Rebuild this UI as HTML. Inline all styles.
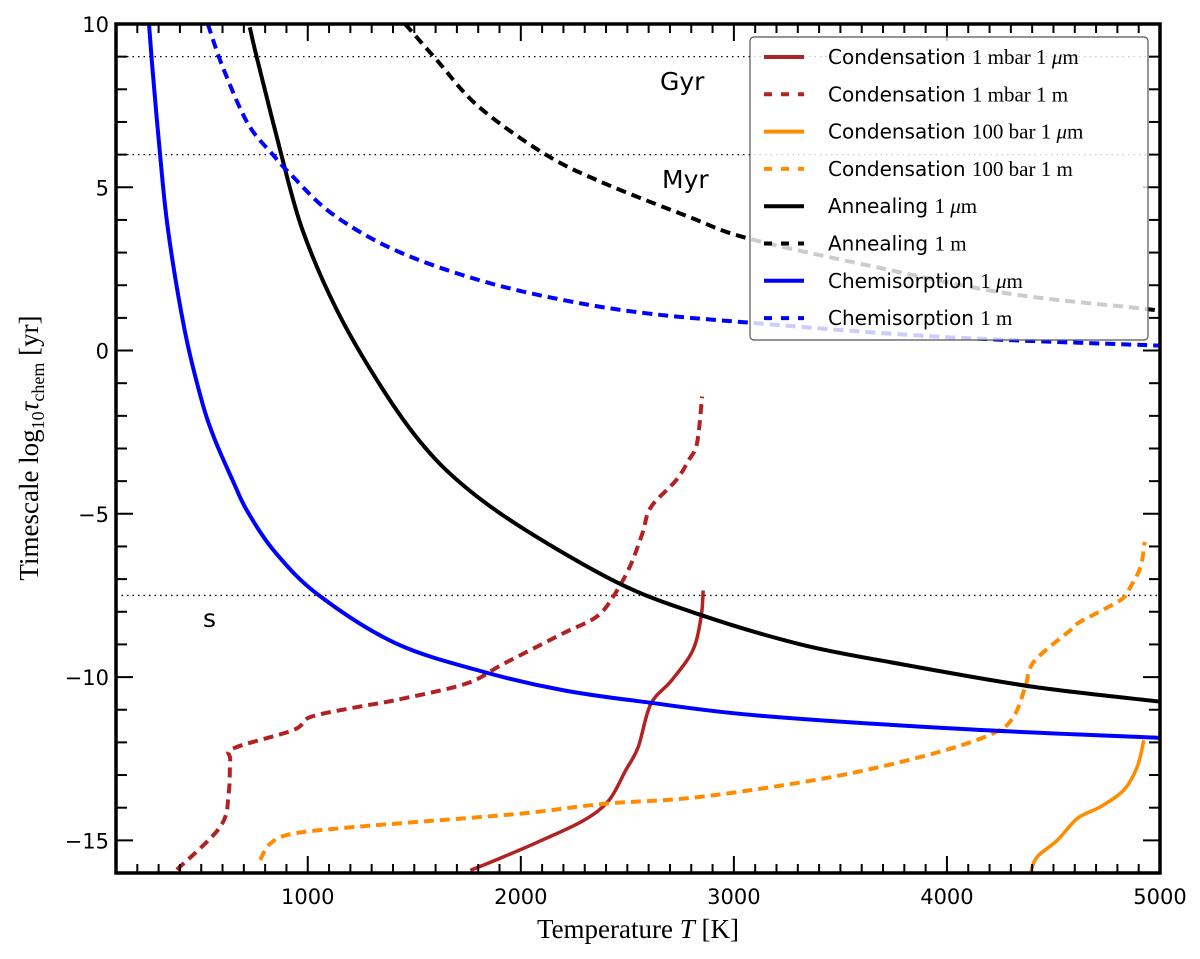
<!DOCTYPE html>
<html><head><meta charset="utf-8"><style>
body{margin:0;background:#fff;}
svg{display:block;}
.tk{font-family:"DejaVu Sans","Liberation Sans",sans-serif;font-size:21px;fill:#000;}
.lg{font-family:"DejaVu Sans","Liberation Sans",sans-serif;font-size:20px;fill:#000;}
.mt{font-family:"Liberation Serif",serif;font-size:21px;}
.ax{font-family:"Liberation Serif",serif;font-size:27px;fill:#000;}
</style></head><body>
<svg id="chart" width="1200" height="959" xmlns="http://www.w3.org/2000/svg">
<defs><clipPath id="clip"><rect x="116" y="24" width="1044" height="849"/></clipPath></defs>
<g id="series" clip-path="url(#clip)"></g>
<g id="axes"></g>
<g id="legend"></g>
</svg>
<script>
const xTicks=[1000,2000,3000,4000,5000];
const yTicks=[-15,-10,-5,0,5,10];
const hLines=[9,6,-7.5];
const chemT=[255,269,304,344,423,501,561,649,719,850,1053,1408,1802,2196,2590,3118,4096,5000];
const chemY=[10,8.8,6.2,3.7,0.6,-1.5,-2.68,-4.0,-4.95,-6.2,-7.5,-8.95,-9.8,-10.4,-10.77,-11.18,-11.6,-11.86];
const annT=[728,762,876,975,1132,1329,1526,1723,1999,2452,2827,3313,3782,4408,5000];
const annY=[9.9,8.95,6,3.7,1.3,-0.95,-2.78,-4.09,-5.4,-7.1,-8.06,-9.0,-9.6,-10.3,-10.75];
const chemMT=[531,600,718,836,915,1112,1408,1802,2196,2590,3063,3970,5000];
const chemMY=[10,8.7,6.96,6,5.43,4.2,3.08,2.16,1.55,1.14,0.86,0.42,0.15];
const annMT=[1457,1605,1802,2117,2393,2787,3063,3656,4283,4911,5000];
const annMY=[10,8.9,7.47,6,5.12,4.1,3.44,2.57,1.75,1.29,1.22];
const c1mT=[386,590,629,636,652,933,1014,1238,1408,1743,1920,2196,2354,2432,2511,2570,2610,2728,2787,2827,2851];
const c1mY=[-15.9,-14.58,-13.55,-12.54,-12.18,-11.62,-11.22,-10.91,-10.71,-10.2,-9.59,-8.67,-8.16,-7.55,-6.63,-5.61,-4.8,-3.98,-3.37,-2.84,-1.41];
const c1uT=[1763,1920,2098,2295,2413,2492,2551,2610,2708,2807,2846,2856];
const c1uY=[-15.92,-15.5,-15,-14.39,-13.78,-12.86,-12.14,-10.82,-10.1,-9.18,-8.16,-7.35];
const c100mT=[777,824,933,1238,1408,1999,2393,2843,3467,3937,4219,4313,4368,4408,4580,4627,4815,4862,4909,4928];
const c100mY=[-15.6,-15.1,-14.79,-14.58,-14.49,-14.18,-13.88,-13.67,-13.05,-12.34,-11.72,-11.21,-10.3,-9.53,-8.56,-8.3,-7.64,-7.23,-6.62,-5.86];
const c100uT=[4393,4424,4518,4612,4721,4830,4893,4924];
const c100uY=[-15.96,-15.5,-15,-14.33,-13.97,-13.46,-12.75,-11.93];

const X0=116,X1=1160,Y0=24,Y1=873,TMIN=100,TMAX=5000,VMIN=-16,VMAX=10;
const px=t=>X0+(t-TMIN)/(TMAX-TMIN)*(X1-X0);
const py=v=>Y1-(v-VMIN)/(VMAX-VMIN)*(Y1-Y0);
const NS="http://www.w3.org/2000/svg";
function mk(tag,attrs,parent){const e=document.createElementNS(NS,tag);for(const k in attrs)e.setAttribute(k,attrs[k]);parent.appendChild(e);return e;}
const S=document.getElementById('series'),A=document.getElementById('axes'),L=document.getElementById('legend');

function smoothPath(P){
 let d='M'+P[0][0].toFixed(1)+','+P[0][1].toFixed(1);
 for(let i=0;i<P.length-1;i++){
  const p0=P[i-1]||P[i],p1=P[i],p2=P[i+1],p3=P[i+2]||P[i+1];
  const c1=[p1[0]+(p2[0]-p0[0])/6,p1[1]+(p2[1]-p0[1])/6];
  const c2=[p2[0]-(p3[0]-p1[0])/6,p2[1]-(p3[1]-p1[1])/6];
  d+=' C'+c1[0].toFixed(1)+','+c1[1].toFixed(1)+' '+c2[0].toFixed(1)+','+c2[1].toFixed(1)+' '+p2[0].toFixed(1)+','+p2[1].toFixed(1);
 }
 return d;
}

hLines.forEach(v=>{const l=mk('line',{x1:X0,x2:X1,y1:py(v),y2:py(v),stroke:'#000','stroke-width':1.3,'stroke-dasharray':'1.5,4'},S);

});

const series=[
 {n:'condensation-1mbar-1m',T:c1mT,Y:c1mY,c:'#b22222',w:4,d:'10,6'},
 {n:'condensation-1mbar-1um',T:c1uT,Y:c1uY,c:'#b22222',w:3.5,d:''},
 {n:'condensation-100bar-1m',T:c100mT,Y:c100mY,c:'#ff8c00',w:4,d:'10,6'},
 {n:'condensation-100bar-1um',T:c100uT,Y:c100uY,c:'#ff8c00',w:3.5,d:''},
 {n:'annealing-1um',T:annT,Y:annY,c:'#000',w:4,d:''},
 {n:'annealing-1m',T:annMT,Y:annMY,c:'#000',w:4,d:'10,6'},
 {n:'chemisorption-1um',T:chemT,Y:chemY,c:'#0000ff',w:4,d:''},
 {n:'chemisorption-1m',T:chemMT,Y:chemMY,c:'#0000ff',w:4,d:'10,6'}
];
series.forEach(s=>{
 const P=s.T.map((t,i)=>[px(t),py(s.Y[i])]);
 const p=mk('path',{d:smoothPath(P),fill:'none',stroke:s.c,'stroke-width':s.w,'stroke-linejoin':'round'},S);
 if(s.d)p.setAttribute('stroke-dasharray',s.d);
 
 
});

for(let t=200;t<5000;t+=100){const major=t%1000===0;const len=major?17:9;
 mk('line',{x1:px(t),x2:px(t),y1:Y1,y2:Y1-len,stroke:'#000','stroke-width':2},A);
 mk('line',{x1:px(t),x2:px(t),y1:Y0,y2:Y0+len,stroke:'#000','stroke-width':2},A);}
for(let v=-15;v<10;v++){const major=v%5===0;const len=major?17:11;
 mk('line',{x1:X0,x2:X0+len,y1:py(v),y2:py(v),stroke:'#000','stroke-width':2},A);
 mk('line',{x1:X1,x2:X1-len,y1:py(v),y2:py(v),stroke:'#000','stroke-width':2},A);}
xTicks.forEach(t=>{const e=mk('text',{x:px(t),y:Y1+31,'text-anchor':'middle',class:'tk'},A);e.textContent=t;
 
 });
yTicks.forEach(v=>{const e=mk('text',{x:X0-7,y:py(v)+8,'text-anchor':'end',class:'tk'},A);e.textContent=(v<0?'\u2212'+(-v):v);
 
 });
const fr=mk('rect',{x:X0,y:Y0,width:X1-X0,height:Y1-Y0,fill:'none',stroke:'#000','stroke-width':3.5},A);



[['Gyr',660,90],['Myr',662,188],['s',203,627]].forEach(a=>{const e=mk('text',{x:a[1],y:a[2],class:'tk'},A);e.style.fontSize='25px';e.textContent=a[0];
 
 });

const xt=mk('text',{x:638,y:938,'text-anchor':'middle',class:'ax'},A);
xt.innerHTML='Temperature <tspan font-style="italic">T</tspan> [K]';


const yt=mk('text',{x:0,y:0,'text-anchor':'middle',class:'ax',transform:'translate(38,448) rotate(-90)'},A);
yt.innerHTML='Timescale log<tspan font-size="18" dy="6">10</tspan><tspan font-style="italic" dy="-6">τ</tspan><tspan font-size="18" dy="6">chem</tspan><tspan dy="-6"> [yr]</tspan>';



const lb=mk('rect',{x:750,y:37,width:398,height:303,rx:4,fill:'rgba(255,255,255,0.8)',stroke:'#555','stroke-width':1.2},L);


const labels=[['Condensation','1 mbar 1 <tspan font-style="italic">μ</tspan>m'],['Condensation','1 mbar 1 m'],['Condensation','100 bar 1 <tspan font-style="italic">μ</tspan>m'],['Condensation','100 bar 1 m'],['Annealing','1 <tspan font-style="italic">μ</tspan>m'],['Annealing','1 m'],['Chemisorption','1 <tspan font-style="italic">μ</tspan>m'],['Chemisorption','1 m']];
const order=[1,0,3,2,4,5,6,7];
labels.forEach((lab,i)=>{const s=series[order[i]];const y=57+i*37.3;
 const g=mk('g',{},L);
 
 
 const ln=mk('line',{x1:764,x2:804,y1:y,y2:y,stroke:s.c,'stroke-width':4},g);
 if(s.d)ln.setAttribute('stroke-dasharray','8,9');
 const t=mk('text',{x:828,y:y+7,class:'lg'},g);
 t.innerHTML=lab[0]+' <tspan class="mt">'+lab[1]+'</tspan>';
});
</script>
</body></html>
